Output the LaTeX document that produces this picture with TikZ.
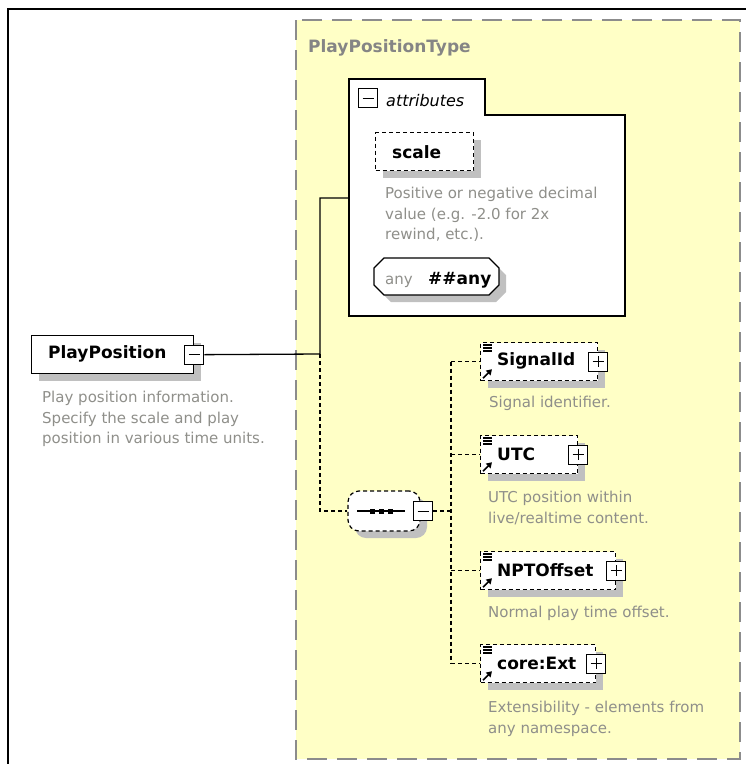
\documentclass[tikz,border=0pt]{standalone}
\usepackage{fontspec}
\setmainfont{DejaVu Sans}
\usetikzlibrary{shadows,arrows.meta}
\definecolor{yel}{HTML}{FFFFC6}
\definecolor{bordgray}{HTML}{8C8C8C}
\definecolor{descgray}{HTML}{8F8F8A}
\definecolor{shad}{HTML}{C0C0C0}
\definecolor{typegray}{HTML}{858585}
\newcommand\xsdicons[1]{%
  \draw[line width=1.1pt] ([xshift=3pt,yshift=-3pt]#1.north west) -- ++(9,0) ++(-9,3) -- ++(9,0) ++(-9,3) -- ++(9,0);
  \draw[line width=1.6pt,-{Triangle[length=5.5pt,width=6.5pt]}] ([xshift=3pt,yshift=3pt]#1.south west) -- ++(9,-9);
}
\tikzset{
  shadowed/.style={drop shadow={shadow xshift=7pt, shadow yshift=-7pt, opacity=1, fill=shad}},
  elbox/.style={draw=black, dash pattern=on 4pt off 3pt, line width=1.2pt, fill=white, shadowed, inner sep=0pt, anchor=north west, minimum height=38pt},
  plusbox/.style={draw=black, solid, fill=white, line width=1.1pt, minimum size=19pt, inner sep=0pt,
    path picture={\draw[line width=1pt] ([xshift=4pt]path picture bounding box.west) -- ([xshift=-4pt]path picture bounding box.east) ([yshift=-4pt]path picture bounding box.north) -- ([yshift=4pt]path picture bounding box.south);}},
  minusbox/.style={draw=black, solid, fill=white, line width=1.1pt, minimum size=19pt, inner sep=0pt,
    path picture={\draw[line width=1pt] ([xshift=4pt]path picture bounding box.west) -- ([xshift=-4pt]path picture bounding box.east);}},
  lbl/.style={font=\fontsize{17}{20}\selectfont\bfseries, text=black, inner sep=0pt, anchor=west},
  desc/.style={font=\fontsize{15}{20.5}\selectfont, text=descgray, inner sep=0pt, anchor=north west, align=left},
  conn/.style={draw=black, line width=1.3pt},
  dconn/.style={draw=black, line width=1.3pt, dash pattern=on 4pt off 3pt},
}
\begin{document}
\begin{tikzpicture}[x=1pt,y=-1pt]
\useasboundingbox (0,0) rectangle (746,764);
% outer frame
\draw[line width=2pt] (8,764) -- (8,9) -- (746,9);
% type box
\draw[bordgray, line width=2pt, dash pattern=on 20pt off 10pt, fill=yel] (296,20) rectangle (740,759);
\node[font=\fontsize{17}{20}\selectfont\bfseries, text=typegray, inner sep=0pt, anchor=base west] (typename) at (308,52) {PlayPositionType};
% attributes
\draw[line width=1.3pt, fill=white] (349,79) -- (485,79) -- (485,115) -- (625,115) -- (625,316) -- (349,316) -- cycle;
\node[minusbox] (attrminus) at (368,98) {};
\node[font=\fontsize{16}{20}\selectfont\itshape, inner sep=0pt, anchor=base west] (attrlbl) at (386,106) {attributes};
\node[elbox, minimum width=98pt] (scale) at (375,132) {};
\node[lbl, anchor=base west] (scalel) at (392,158) {scale};
\node[desc] (scaled) at (385,187) {Positive or negative decimal\\value (e.g. -2.0 for 2x\\rewind, etc.).};
\draw[line width=1.2pt, fill=white, shadowed] (384,258) -- (489,258) -- (499,268) -- (499,285) -- (489,295) -- (384,295) -- (374,285) -- (374,268) -- cycle;
\node[font=\fontsize{15}{20}\selectfont, text=descgray, inner sep=0pt, anchor=base west] (anyl) at (385,284) {any};
\node[lbl, anchor=base west] (anyn) at (428,284) {\#\#any};
\coordinate (attrin) at (349,198);
% PlayPosition element
\node[draw, line width=1.3pt, fill=white, shadowed, minimum width=162pt, minimum height=38pt, inner sep=0pt, anchor=north west] (pp) at (31,335) {};
\node[lbl] (ppl) at (48,354) {PlayPosition};
\node[minusbox] (ppminus) at (pp.east) {};
\node[desc] (ppd) at (42,391) {Play position information.\\Specify the scale and play\\position in various time units.};
% sequence
\node[draw, dash pattern=on 4pt off 3pt, line width=1.2pt, rounded corners=11pt, fill=white, shadowed, minimum width=72pt, minimum height=40pt, inner sep=0pt] (seq) at (384,511) {};
\draw[line width=1.2pt] (357,511) -- (405,511);
\foreach \xx in {372,381,390} \fill (\xx-2.5,508.5) rectangle ++(5,5);
\node[minusbox] (seqminus) at (423,511) {};
% elements
\node[elbox, minimum width=117pt] (sig) at (480,342) {};
\node[plusbox] (sigplus) at (sig.east) {};
\node[lbl] (sigl) at (497,361) {SignalId};
\node[desc] (sigd) at (489,396) {Signal identifier.};
\xsdicons{sig}
\node[elbox, minimum width=97pt] (utc) at (480,435) {};
\node[plusbox] (utcplus) at (utc.east) {};
\node[lbl] (utcl) at (497,454) {UTC};
\node[desc] (utcd) at (488,491) {UTC position within\\live/realtime content.};
\xsdicons{utc}
\node[elbox, minimum width=135pt] (npt) at (480,551) {};
\node[plusbox] (nptplus) at (npt.east) {};
\node[lbl] (nptl) at (497,570) {NPTOffset};
\node[desc] (nptd) at (488,606) {Normal play time offset.};
\xsdicons{npt}
\node[elbox, minimum width=115pt] (ext) at (480,644) {};
\node[plusbox] (extplus) at (ext.east) {};
\node[lbl] (extl) at (497,663) {core:Ext};
\node[desc] (extd) at (488,701) {Extensibility - elements from\\any namespace.};
\xsdicons{ext}
% connectors
\coordinate (j1) at (320,354);
\coordinate (j2) at (451,511);
\draw[conn] (ppminus.east) -- (j1) |- (attrin);
\draw[dconn] (j1) |- (seq.west);
\draw[dconn] (seqminus.east) -- (j2);
\draw[dconn] (j2 |- sig.west) -- (j2 |- ext.west);
\draw[dconn] (j2 |- sig.west) -- (sig.west);
\draw[dconn] (j2 |- utc.west) -- (utc.west);
\draw[dconn] (j2 |- npt.west) -- (npt.west);
\draw[dconn] (j2 |- ext.west) -- (ext.west);
\end{tikzpicture}
\end{document}
